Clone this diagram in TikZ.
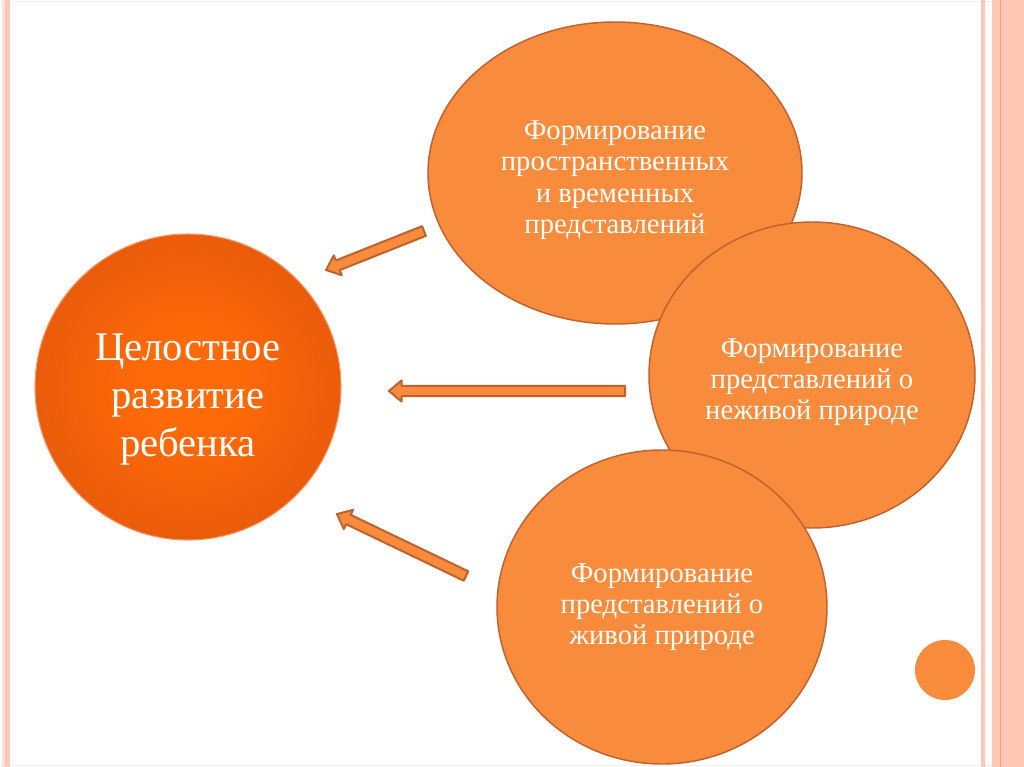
\documentclass[tikz,border=0pt]{standalone}
\usepackage{fontspec}
\setmainfont{Liberation Serif}
\usetikzlibrary{shapes.geometric,calc}

\definecolor{bubble}{HTML}{F98B3C}
\definecolor{bubbleline}{HTML}{BF6230}
\definecolor{coreinner}{HTML}{FF6A08}
\definecolor{coreouter}{HTML}{CA450F}
\definecolor{coreline}{HTML}{F59A66}
\definecolor{stripe}{HTML}{FFC8B4}
\definecolor{stripelight}{HTML}{FCE2D8}
\definecolor{stripedark}{HTML}{F2A07E}

\pgfdeclareradialshading{coreglow}{\pgfpoint{0bp}{0bp}}{%
  color(0bp)=(coreinner); color(8bp)=(coreinner);
  color(50bp)=(coreouter); color(100bp)=(coreouter)}

% block arrow from #1 (tail) to #2 (tip)
\newcommand{\blockarrow}[2]{%
  \coordinate (hb) at ($(#2)!9.5pt!(#1)$);
  \draw[arrowbody] ($(#1)!3.9pt!90:(#2)$) -- ($(hb)!3.9pt!90:(#2)$)
    -- ($(hb)!8pt!90:(#2)$) -- (#2) -- ($(hb)!8pt!-90:(#2)$)
    -- ($(hb)!3.9pt!-90:(#2)$) -- ($(#1)!3.9pt!-90:(#2)$) -- cycle;
}

\begin{document}
\begin{tikzpicture}[x=0.75pt,y=-0.75pt,
    bubbletext/.style={text=white, align=center, font=\fontsize{21.5}{23.5}\selectfont},
    arrowbody/.style={fill=bubble, draw=bubbleline, line width=1.5pt, line join=round}]
  \useasboundingbox (0,0) rectangle (1024,767);
  \fill[white] (0,0) rectangle (1024,767);

  % frame stripes
  \draw[black!6] (0,1) -- (1024,1);
  \draw[black!6] (0,765) -- (1024,765);
  \fill[stripelight] (2,0) rectangle (4.5,767);
  \fill[stripe] (5,0) rectangle (10,767);
  \fill[stripe] (981,0) rectangle (985,767);
  \fill[stripe] (992,0) rectangle (1024,767);
  \fill[stripedark] (999.5,0) rectangle (1001,767);

  % three bubbles
  \node[ellipse, fill=bubble, draw=bubbleline, line width=1.1pt, inner sep=0pt,
        minimum width=280.5pt, minimum height=226.5pt, bubbletext] (space) at (615,173)
        {\rule{0pt}{25pt}Формирование\\пространственных\\и временных\\представлений};
  \node[ellipse, fill=bubble, draw=bubbleline, line width=1.1pt, inner sep=0pt,
        minimum width=244.5pt, minimum height=229.5pt, bubbletext] (lifeless) at (812,375)
        {\rule{0pt}{25pt}Формирование\\представлений о\\неживой природе};
  \node[ellipse, fill=bubble, draw=bubbleline, line width=1.1pt, inner sep=0pt,
        minimum width=247.5pt, minimum height=235.5pt, bubbletext] (living) at (662,607)
        {Формирование\\представлений о\\живой природе};

  % main circle
  \node[circle, shading=coreglow, draw=coreline, line width=0.8pt, inner sep=0pt,
        minimum size=229.5pt, text=white, align=center,
        font=\fontsize{30.5}{36}\selectfont] (child) at (188,387)
        {\rule{0pt}{38pt}Целостное\\развитие\\ребенка};

  % arrow ends
  \coordinate (t1) at (424,231);
  \coordinate (h1) at (326,270);
  \coordinate (t2) at (625,391);
  \coordinate (h2) at (389,391);
  \coordinate (t3) at (466,576);
  \coordinate (h3) at (337,514);
  \blockarrow{t1}{h1}
  \blockarrow{t2}{h2}
  \blockarrow{t3}{h3}

  % small dot
  \node[circle, fill=bubble, minimum size=45pt, inner sep=0pt] (dot) at (945,670) {};
\end{tikzpicture}
\end{document}
